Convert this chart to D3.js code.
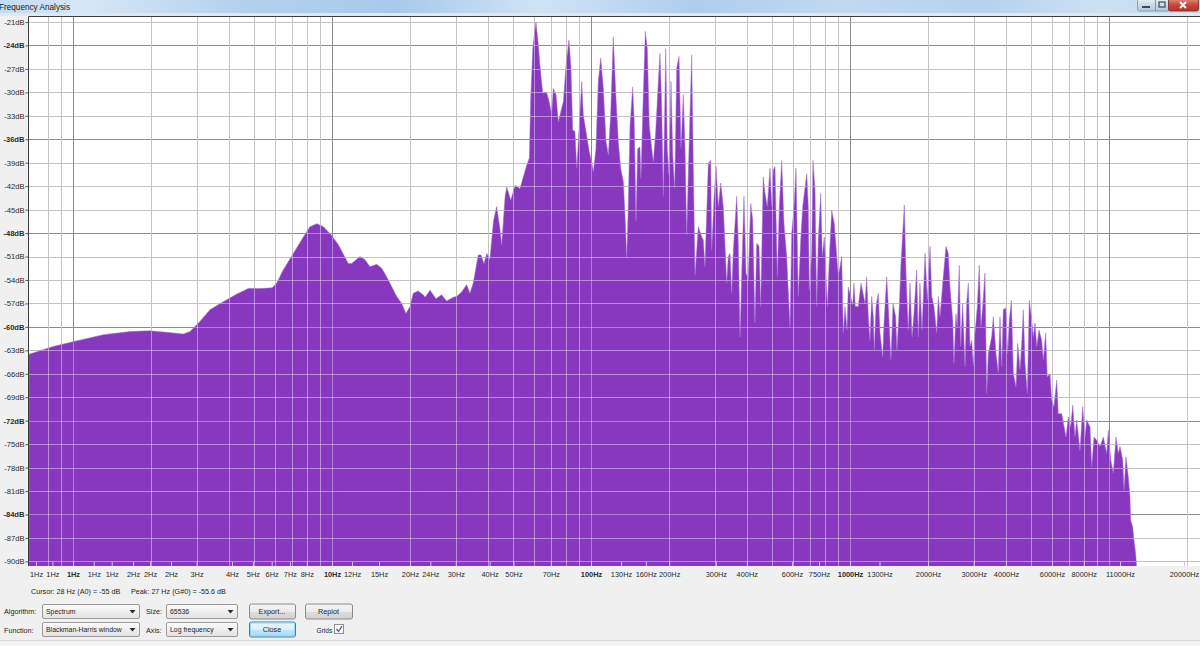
<!DOCTYPE html>
<html><head><meta charset="utf-8">
<script src="https://cdn.jsdelivr.net/npm/d3@7"></script>
<style>
html,body{margin:0;padding:0;background:#f0f0f0;overflow:hidden}
svg{display:block;font-family:"Liberation Sans",Arial,sans-serif}
</style></head><body>
<svg id="c" width="1200" height="646"></svg>
<script>
// ---------- DATA ----------
// [frequency Hz, level dB]
const bassBand = [[0.676,-63.5],[0.839,-62.5],[1.0,-61.9],[1.31,-61.0],[1.66,-60.6],[1.98,-60.5],[2.30,-60.7],[2.67,-60.9],[2.83,-60.6],[3.09,-59.3],[3.38,-57.8],[3.80,-56.8],[4.29,-55.8],[4.75,-55.1],[5.27,-55.1],[5.87,-55.0],[6.12,-54.4],[6.49,-52.7],[7.09,-50.6],[7.75,-48.5],[8.22,-47.2],[8.73,-46.8],[9.27,-47.2],[9.97,-48.3],[10.58,-49.5],[11.56,-51.9],[11.91,-51.9],[12.82,-51.0],[13.41,-51.4],[14.02,-52.3],[14.88,-52.0],[15.56,-52.5],[16.26,-53.6],[17.78,-56.1],[18.58,-57.0],[19.31,-58.3],[20.0,-57.4],[20.6,-55.7],[21.5,-55.4],[22.5,-55.9],[22.9,-56.2],[23.9,-55.3],[25.2,-56.4],[26.5,-55.9],[27.7,-56.7],[29.4,-56.2],[30.3,-56.1],[31.7,-55.5],[33.1,-54.6],[34.1,-55.7],[35.1,-54.4],[36.7,-50.8],[37.6,-50.8],[38.6,-51.9],[39.6,-50.6],[40.7,-51.4]];
const midBand = [[42.0,-46.5],[43.2,-44.6],[44.5,-47.4],[45.2,-49.5],[46.6,-43.3],[47.3,-42.1],[49.0,-43.8],[50.9,-41.9],[53.2,-42.3],[54.8,-40.8],[56.5,-39.3],[57.8,-38.4],[58.5,-30.8],[59.6,-24.4],[61.3,-21.0],[62.6,-23.9],[63.5,-26.5],[65.1,-30.1],[67.4,-30.0],[69.0,-31.2],[70.5,-32.9],[71.5,-29.5],[73.3,-30.3],[74.8,-33.8],[76.4,-32.5],[78.2,-31.2],[80.1,-26.5],[82.2,-23.3],[83.7,-26.9],[85.0,-34.8],[86.7,-35.0],[88.1,-39.7],[90.1,-34.2],[92.1,-28.6],[93.4,-32.9],[96.2,-35.5],[98.5,-37.6],[100.6,-38.9],[102.1,-40.2],[104.5,-37.2],[106.7,-28.6],[109.0,-25.6],[111.6,-29.5],[114.3,-36.3],[116.7,-38.0],[119.2,-32.5],[121.9,-22.9],[124.9,-30.8],[127.5,-36.3],[130.2,-39.7],[133.3,-41.4],[135.3,-45.7],[137.4,-51.2],[139.0,-45.7],[141.5,-34.2],[144.9,-29.3],[146.9,-33.8],[149.2,-46.5],[151.4,-37.2],[154.5,-37.0],[155.9,-41.0],[158.3,-32.9],[162.1,-22.2],[165.0,-24.4],[167.9,-34.2],[171.6,-37.2],[174.0,-38.9],[177.8,-35.0],[181.9,-28.6],[184.7,-25.0],[187.5,-32.0],[190.2,-43.3],[194.3,-24.4],[197.1,-37.2],[200.0,-40.6],[203.7,-28.6],[206.8,-38.0],[210.4,-42.3],[214.3,-26.9],[218.7,-25.4],[222.6,-37.2],[227.2,-30.3],[230.7,-37.2],[234.2,-48.2],[239.0,-37.2],[244.8,-25.2],[248.3,-39.3]];
const trebleBand = [[252.1,-53.4],[259.6,-47.2],[267.6,-48.5],[271.5,-48.9],[275.4,-52.3],[283.8,-39.1],[289.8,-38.7],[292.4,-50.2],[298.5,-43.5],[303.9,-39.5],[310.2,-44.6],[316.8,-41.6],[324.2,-44.6],[334.2,-54.4],[338.9,-51.0],[344.1,-50.6],[349.3,-55.7],[354.4,-50.2],[365.3,-43.3],[370.5,-49.3],[376.2,-61.3],[381.9,-53.1],[389.6,-43.3],[396.7,-53.1],[404.6,-54.0],[413.6,-44.2],[421.0,-46.3],[429.5,-59.5],[436.3,-49.3],[445.3,-49.7],[452.0,-57.4],[462.4,-40.8],[469.7,-42.9],[479.4,-44.6],[491.0,-39.7],[498.5,-44.6],[505.8,-39.9],[513.3,-39.5],[524.0,-53.6],[533.4,-44.6],[544.9,-38.7],[556.0,-46.8],[569.6,-51.0],[586.5,-60.0],[595.7,-48.0],[608.1,-44.6],[618.8,-39.7],[631.0,-56.1],[645.2,-48.9],[656.7,-44.6],[680.7,-40.4],[690.2,-44.6],[696.6,-55.3],[711.2,-50.6],[719.5,-38.7],[732.8,-42.5],[743.7,-57.4],[754.4,-48.9],[770.7,-42.9],[781.6,-51.0],[795.7,-48.5],[817.3,-57.4],[835.0,-50.2],[850.0,-45.1],[870.0,-46.8],[901.4,-53.6],[928.9,-51.0],[941.9,-60.8],[956.5,-57.4],[973.6,-60.4],[984.9,-54.9],[1024,-57.2],[1036,-54.4],[1048,-57.4],[1076,-57.4],[1103,-54.4],[1143,-57.0],[1160,-53.6],[1177,-58.7],[1194,-61.7],[1213,-56.1],[1230,-58.7],[1241,-63.0],[1260,-57.4],[1286,-55.7],[1306,-60.8],[1337,-63.8],[1353,-59.5],[1386,-53.6],[1406,-57.4],[1439,-64.2],[1466,-57.0],[1501,-58.7],[1518,-63.0],[1550,-57.4],[1574,-51.8],[1621,-44.4],[1645,-53.1],[1679,-60.4],[1705,-54.4],[1736,-61.3],[1766,-58.3],[1809,-52.7],[1835,-61.3],[1862,-54.4],[1897,-60.4],[1949,-50.6],[1989,-56.6],[2037,-49.7],[2068,-56.1],[2110,-57.4],[2161,-60.8],[2193,-56.1],[2226,-58.7],[2286,-54.0],[2348,-49.7],[2396,-50.6],[2432,-54.9],[2492,-59.1],[2520,-64.7],[2565,-58.3],[2594,-60.0],[2642,-52.1],[2675,-62.5],[2723,-57.0],[2780,-65.1],[2822,-57.0],[2863,-54.4],[2906,-62.5],[2951,-61.7],[2993,-65.0],[3038,-60.8],[3101,-57.4],[3156,-52.1],[3204,-60.0],[3253,-57.4],[3320,-53.1],[3371,-68.5],[3420,-63.4],[3524,-61.3],[3575,-58.7],[3662,-63.4],[3738,-65.9],[3794,-58.7],[3853,-65.1],[3908,-57.8],[3993,-57.6],[4064,-63.4],[4122,-59.1],[4198,-56.6],[4272,-65.9],[4375,-67.7],[4442,-62.1],[4534,-65.5],[4603,-62.1],[4670,-57.8],[4740,-64.7],[4838,-68.5],[4924,-56.6],[5030,-59.1],[5102,-61.3],[5180,-59.5],[5260,-62.5],[5367,-60.4],[5495,-61.7],[5577,-64.2],[5696,-60.8],[5778,-66.4],[5918,-66.0],[6009,-69.4],[6132,-70.2],[6281,-66.8],[6371,-71.1],[6568,-71.1],[6823,-74.1],[6966,-71.5],[7112,-72.8],[7244,-70.0],[7391,-74.1],[7504,-71.9],[7727,-75.8],[7916,-70.2],[8077,-74.1],[8203,-71.9],[8447,-72.8],[8577,-77.9],[8750,-74.1],[8965,-74.5],[9232,-75.3],[9506,-74.1],[9796,-76.2],[9938,-73.2],[10153,-77.0],[10390,-78.7],[10642,-74.1],[10864,-76.2],[11028,-75.3],[11298,-77.0],[11429,-80.9],[11630,-76.6],[11871,-79.2],[12050,-81.7],[12127,-84.7],[12345,-85.6],[12488,-87.3],[12677,-89.0],[12795,-91.0]];

const yTicks = [-21,-24,-27,-30,-33,-36,-39,-42,-45,-48,-51,-54,-57,-60,-63,-66,-69,-72,-75,-78,-81,-84,-87,-90];
const yMajor = [-24,-36,-48,-60,-72,-84];
const xTickHz = [0.72,0.833,1,1.203,1.411,1.705,1.983,2.39,3.0,4.11,4.95,5.85,6.88,7.99,10,11.95,15.19,20,23.97,30.06,40.6,50.2,69.97,100,130.6,162.8,200.4,303.4,399.5,597,759,1000,1300,2001,3003,4003,6026,7988,11030,19480];
const xTickLabels = ["1Hz","1Hz","1Hz","1Hz","1Hz","2Hz","2Hz","2Hz","3Hz","4Hz","5Hz","6Hz","7Hz","8Hz","10Hz","12Hz","15Hz","20Hz","24Hz","30Hz","40Hz","50Hz","70Hz","100Hz","130Hz","160Hz","200Hz","300Hz","400Hz","600Hz","750Hz","1000Hz","1300Hz","2000Hz","3000Hz","4000Hz","6000Hz","8000Hz","11000Hz","20000Hz"];
const xBoldHz = [1,10,100,1000];
const decadeMajors = [1,10,100,1000,10000];

// ---------- LAYOUT ----------
const PL=29, PT=17, PR=1200, PB=566;
const purple = "#8738bf";
const x = d3.scaleLog().domain([1,10000]).range([73,1109]);
const y = d3.scaleLinear().domain([-21,-90]).range([22,561.4]);

const svg = d3.select("#c");
const defs = svg.append("defs");

// title bar
const tg = defs.append("linearGradient").attr("id","tbar").attr("x1",0).attr("x2",1).attr("y1",0).attr("y2",0);
[[0,"#c3dbf1"],[0.07,"#d6e7f7"],[0.2,"#b3d1ee"],[0.33,"#a7c9eb"],[0.45,"#cfe3f6"],[0.58,"#aecdee"],[0.7,"#c0d9f1"],[0.82,"#b5d2ee"],[0.92,"#cde1f4"],[1,"#bcd6ef"]]
  .forEach(([o,c])=>tg.append("stop").attr("offset",o).attr("stop-color",c));
svg.append("rect").attr("x",0).attr("y",0).attr("width",1200).attr("height",14).attr("fill","url(#tbar)");
svg.append("rect").attr("x",0).attr("y",13).attr("width",1200).attr("height",3).attr("fill","#dce8f3");
svg.append("text").attr("x",-1).attr("y",9.5).attr("font-size",8.2).attr("fill","#1a1a1a").text("Frequency Analysis");

// window buttons
const bg1 = defs.append("linearGradient").attr("id","wbtn").attr("x1",0).attr("x2",0).attr("y1",0).attr("y2",1);
bg1.append("stop").attr("offset",0).attr("stop-color","#e4edf6");
bg1.append("stop").attr("offset",1).attr("stop-color","#b3c7dc");
const bg2 = defs.append("linearGradient").attr("id","wclose").attr("x1",0).attr("x2",0).attr("y1",0).attr("y2",1);
bg2.append("stop").attr("offset",0).attr("stop-color","#e08a7f");
bg2.append("stop").attr("offset",0.5).attr("stop-color","#c9463a");
bg2.append("stop").attr("offset",1).attr("stop-color","#b8332a");
svg.append("rect").attr("x",1137.5).attr("y",-1).attr("width",18).attr("height",12).attr("rx",2).attr("fill","url(#wbtn)").attr("stroke","#7890aa").attr("stroke-width",0.8);
svg.append("rect").attr("x",1142).attr("y",6).attr("width",8).attr("height",2).attr("fill","#3a4a5c");
svg.append("rect").attr("x",1155.5).attr("y",-1).attr("width",13).attr("height",12).attr("fill","url(#wbtn)").attr("stroke","#7890aa").attr("stroke-width",0.8);
svg.append("rect").attr("x",1159).attr("y",2).attr("width",6).attr("height",5).attr("fill","none").attr("stroke","#3a4a5c").attr("stroke-width",1.2);
svg.append("rect").attr("x",1168.5).attr("y",-1).attr("width",30).attr("height",12).attr("rx",2).attr("fill","url(#wclose)").attr("stroke","#7d2a22").attr("stroke-width",0.8);
svg.append("path").attr("d","M1180,2 L1186,8 M1186,2 L1180,8").attr("stroke","#fff").attr("stroke-width",1.8);

// plot background
svg.append("rect").attr("x",PL).attr("y",PT).attr("width",PR-PL).attr("height",PB-PT).attr("fill","#fff");
defs.append("clipPath").attr("id","plotClip").append("rect").attr("x",PL).attr("y",PT).attr("width",PR-PL).attr("height",PB-PT);

// grid positions
const gridHz = [0.8,0.9];
decadeMajors.forEach(d=>{ for(let k=1;k<=9;k++){ const v=d*k; if(v<=20000) gridHz.push(v);} });

function drawGrid(g, minorCol, majorCol){
  g.selectAll("line.h").data(yTicks).join("line")
    .attr("x1",PL).attr("x2",PR).attr("y1",d=>Math.round(y(d))+0.5).attr("y2",d=>Math.round(y(d))+0.5)
    .attr("stroke",d=>yMajor.includes(d)?majorCol:minorCol).attr("stroke-width",1);
  g.selectAll("line.v").data(gridHz).join("line")
    .attr("y1",PT).attr("y2",PB).attr("x1",d=>Math.round(x(d))+0.5).attr("x2",d=>Math.round(x(d))+0.5)
    .attr("stroke",d=>decadeMajors.includes(d)?majorCol:minorCol).attr("stroke-width",1);
}
const plotG = svg.append("g").attr("clip-path","url(#plotClip)");
drawGrid(plotG.append("g"), "#c4c4c4", "#8c8c8c");

// spectrum area
const spectrum = bassBand.concat(midBand, trebleBand);
const area = d3.area().x(d=>x(d[0])).y0(PB+2).y1(d=>y(d[1]));
const areaD = area(spectrum);
plotG.append("path").attr("d",areaD).attr("fill",purple).attr("stroke","#a36fd0").attr("stroke-width",0.5);
defs.append("clipPath").attr("id","areaClip").append("path").attr("d",areaD);
drawGrid(plotG.append("g").attr("clip-path","url(#areaClip)"), "rgba(255,255,255,0.42)", "rgba(255,255,255,0.35)");

// frame
svg.append("line").attr("x1",PL-0.5).attr("x2",PR).attr("y1",PT-0.5).attr("y2",PT-0.5).attr("stroke","#3c3c3c");
svg.append("line").attr("x1",PL-0.5).attr("x2",PL-0.5).attr("y1",PT-0.5).attr("y2",PB).attr("stroke","#3c3c3c");

// y axis
const yAxis = svg.append("g").attr("transform",`translate(${PL-0.5},0)`)
  .call(d3.axisLeft(y).tickValues(yTicks).tickSize(3).tickPadding(1).tickFormat(d=>d+"dB"));
yAxis.select(".domain").remove();
yAxis.selectAll(".tick line").attr("stroke","#555");
yAxis.selectAll(".tick text").attr("font-family","'Liberation Sans',Arial,sans-serif").attr("font-size",7.6)
  .attr("fill","#2a2a2a").attr("font-weight",d=>yMajor.includes(d)?"bold":"normal");

// x axis
const xAxis = svg.append("g").attr("transform",`translate(0,${PB})`)
  .call(d3.axisBottom(x).tickValues(xTickHz).tickSize(-4).tickPadding(5.5).tickFormat((d,i)=>xTickLabels[i]));
xAxis.select(".domain").remove();
xAxis.selectAll(".tick line").attr("stroke","#d8c2ec");
xAxis.selectAll(".tick text").attr("font-family","'Liberation Sans',Arial,sans-serif").attr("font-size",7.4)
  .attr("fill","#2a2a2a").attr("font-weight",d=>xBoldHz.includes(d)?"bold":"normal");

// ---------- CONTROLS ----------
const txt=(s,xx,yy,opt={})=>svg.append("text").attr("x",xx).attr("y",yy).attr("font-size",opt.fs||7.2)
  .attr("fill",opt.fill||"#1e1e1e").attr("text-anchor",opt.anchor||"start").text(s);
txt("Cursor: 28 Hz (A0) = -55 dB",31,593.5);
txt("Peak: 27 Hz (G#0) = -55.6 dB",131,593.5);

const cg = defs.append("linearGradient").attr("id","combo").attr("x1",0).attr("x2",0).attr("y1",0).attr("y2",1);
cg.append("stop").attr("offset",0).attr("stop-color","#fbfbfb");
cg.append("stop").attr("offset",1).attr("stop-color","#e2e2e2");
const btg = defs.append("linearGradient").attr("id","btn").attr("x1",0).attr("x2",0).attr("y1",0).attr("y2",1);
btg.append("stop").attr("offset",0).attr("stop-color","#f4f4f4");
btg.append("stop").attr("offset",0.5).attr("stop-color","#ebebeb");
btg.append("stop").attr("offset",0.51).attr("stop-color","#dddddd");
btg.append("stop").attr("offset",1).attr("stop-color","#d0d0d0");
const bbg = defs.append("linearGradient").attr("id","btnBlue").attr("x1",0).attr("x2",0).attr("y1",0).attr("y2",1);
bbg.append("stop").attr("offset",0).attr("stop-color","#eaf6fd");
bbg.append("stop").attr("offset",0.5).attr("stop-color","#d9f0fc");
bbg.append("stop").attr("offset",0.51).attr("stop-color","#bee6fd");
bbg.append("stop").attr("offset",1).attr("stop-color","#a7d9f5");

function combo(x0,x1,yy,label){
  svg.append("rect").attr("x",x0+0.5).attr("y",yy+0.5).attr("width",x1-x0).attr("height",14).attr("rx",1.5)
    .attr("fill","url(#combo)").attr("stroke","#9a9a9a");
  txt(label,x0+4,yy+10.3,{fs:6.9});
  const ax=x1-6.5, ay=yy+6;
  svg.append("path").attr("d",`M${ax-3},${ay} L${ax+3},${ay} L${ax},${ay+3.5}Z`).attr("fill","#2b2b2b");
}
function button(x0,x1,yy,label,blue){
  svg.append("rect").attr("x",x0+0.5).attr("y",yy+0.5).attr("width",x1-x0).attr("height",15).attr("rx",2)
    .attr("fill",blue?"url(#btnBlue)":"url(#btn)").attr("stroke",blue?"#3c7fb1":"#8a8a8a");
  if(blue) svg.append("rect").attr("x",x0+1.5).attr("y",yy+1.5).attr("width",x1-x0-2).attr("height",13).attr("rx",1.5)
    .attr("fill","none").attr("stroke","#7fd0f6").attr("stroke-width",0.8);
  txt(label,(x0+x1)/2,yy+10.6,{anchor:"middle"});
}
txt("Algorithm:",4,614);
combo(42,139,604,"Spectrum");
txt("Size:",146,614);
combo(166,237,604,"65536");
button(249,295,603.5,"Export...");
button(305,352,603.5,"Replot");

txt("Function:",4,632.5);
combo(42,139,622,"Blackman-Harris window");
txt("Axis:",146,632.5);
combo(166,237,622,"Log frequency");
button(249,295,621.5,"Close",true);
txt("Grids",316.5,632.5,{fs:6.6});
svg.append("rect").attr("x",334.5).attr("y",624.5).attr("width",9).attr("height",9).attr("fill","#f6f6f6").attr("stroke","#8e8f8f");
svg.append("path").attr("d","M336.5,629 L338.5,631.5 L342,626").attr("fill","none").attr("stroke","#4a5f97").attr("stroke-width",1.3);

svg.append("line").attr("x1",0).attr("x2",1200).attr("y1",640.5).attr("y2",640.5).attr("stroke","#d6d6d6");
svg.append("rect").attr("x",0).attr("y",641).attr("width",1200).attr("height",5).attr("fill","#f3f3f3");
</script>
</body></html>
